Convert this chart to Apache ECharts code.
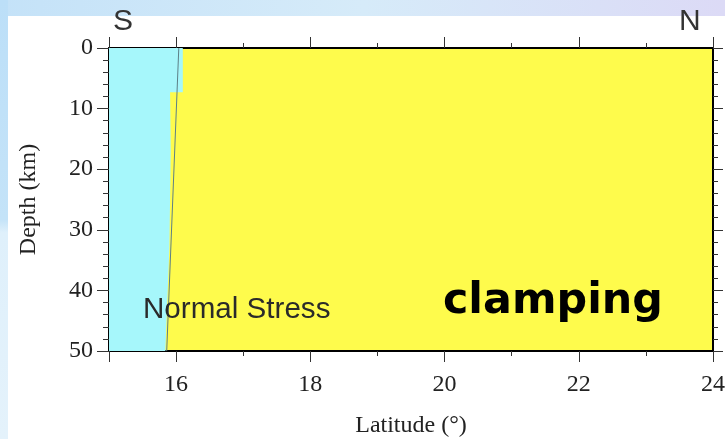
<!DOCTYPE html>
<html>
<head>
<meta charset="utf-8">
<script src="https://cdn.jsdelivr.net/npm/echarts@6/dist/echarts.min.js"></script>
<style>
html,body{margin:0;padding:0;background:#fff;}
#chart{width:725px;height:439px;}
</style>
</head>
<body>
<div id="chart"></div>
<script>
// ---- data ----
const latitudeRange = [15, 24];
const depthRange = [0, 50];
const latitudeLabels = [16, 18, 20, 22, 24];
const latitudeMinorTicks = [15, 16, 17, 18, 19, 20, 21, 22, 23, 24];
const latitudeMajorTicks = [15, 16, 18, 20, 22, 24];
const depthLabels = [0, 10, 20, 30, 40, 50];
// boundary between the cyan (unclamping) and yellow (clamping) zones
const boundaryLat = [16.10, 16.10, 15.91, 15.92, 15.90, 15.84];
const boundaryDepth = [0, 7.3, 7.3, 17, 33, 50];
// thin fault line
const faultLat = [16.04, 15.86];
const faultDepth = [0, 50];

const CYAN = '#a6f7fb';
const YELLOW = '#fefb4c';

const chart = echarts.init(document.getElementById('chart'), null, {renderer: 'canvas'});

const serif = 'Liberation Serif';
const tickFont = {fontFamily: serif, fontSize: 24, color: '#222'};

function xAxisBase(pos, opts) {
  return Object.assign({
    type: 'value', position: pos, min: latitudeRange[0], max: latitudeRange[1], interval: 1,
    splitLine: {show: false}, axisLabel: {show: false}
  }, opts);
}

const boundaryData = boundaryLat.map((v, i) => [v, boundaryDepth[i]]);
const faultData = faultLat.map((v, i) => [v, faultDepth[i]]);

const option = {
  animation: false,
  backgroundColor: '#ffffff',
  grid: {left: 109, right: 12, top: 48, bottom: 88, containLabel: false, outerBoundsMode: 'none',
    show: true, backgroundColor: YELLOW, borderWidth: 0},
  graphic: [
    {type: 'rect', z: -100, shape: {x: 0, y: 0, width: 725, height: 16},
      style: {fill: new echarts.graphic.LinearGradient(0, 0, 1, 0, [
        {offset: 0, color: '#c4e2f8'}, {offset: 0.5, color: '#d6ebf9'}, {offset: 1, color: '#dcdaf6'}])}},
    {type: 'rect', z: -100, shape: {x: 0, y: 0, width: 8, height: 439},
      style: {fill: new echarts.graphic.LinearGradient(0, 0, 0, 1, [
        {offset: 0, color: '#bcdff8'}, {offset: 0.5, color: '#c4e3f8'}, {offset: 0.53, color: '#dff0fb'}, {offset: 1, color: '#e4f2fb'}])}},
    {type: 'text', left: 113, top: 7, style: {text: 'S', font: '30px "Liberation Sans"', fill: '#333'}},
    {type: 'text', left: 679, top: 7, style: {text: 'N', font: '30px "Liberation Sans"', fill: '#333'}},
    {type: 'text', left: 143, top: 295, z: 50, style: {text: 'Normal Stress', font: '29.6px "Liberation Sans"', fill: '#2a2a2a'}},
    {type: 'text', left: 443, top: 280, z: 50, style: {text: 'clamping', font: 'bold 42.8px "DejaVu Sans"', fill: '#000'}}
  ],
  xAxis: [
    xAxisBase('bottom', {
      axisLine: {show: true, onZero: false, lineStyle: {color: '#000', width: 2}},
      axisTick: {show: true, customValues: latitudeMinorTicks, length: 5, lineStyle: {color: '#333', width: 1}},
      axisLabel: {show: true, customValues: latitudeLabels, margin: 22, ...tickFont},
      name: 'Latitude (°)', nameLocation: 'middle', nameGap: 63,
      nameTextStyle: {fontFamily: serif, fontSize: 24, color: '#222'}
    }),
    xAxisBase('bottom', {
      axisLine: {show: false, onZero: false},
      axisTick: {show: true, customValues: latitudeMajorTicks, length: 11, lineStyle: {color: '#333', width: 1}}
    }),
    xAxisBase('top', {
      axisLine: {show: true, onZero: false, lineStyle: {color: '#000', width: 2}},
      axisTick: {show: true, customValues: latitudeMinorTicks, length: 5, lineStyle: {color: '#333', width: 1}}
    }),
    xAxisBase('top', {
      axisLine: {show: false, onZero: false},
      axisTick: {show: true, customValues: latitudeMajorTicks, length: 11, lineStyle: {color: '#333', width: 1}}
    })
  ],
  yAxis: [
    {
      type: 'value', position: 'left', inverse: true, min: depthRange[0], max: depthRange[1], interval: 10,
      splitLine: {show: false},
      axisLine: {show: true, onZero: false, lineStyle: {color: '#000', width: 2}},
      axisTick: {show: true, length: 12, lineStyle: {color: '#333', width: 1}},
      minorTick: {show: true, splitNumber: 5, length: 6, lineStyle: {color: '#333', width: 1}},
      axisLabel: {show: true, margin: 16, customValues: depthLabels, ...tickFont},
      name: 'Depth (km)', nameLocation: 'middle', nameGap: 68,
      nameTextStyle: {fontFamily: serif, fontSize: 24, color: '#222'}
    },
    {
      type: 'value', position: 'right', inverse: true, min: depthRange[0], max: depthRange[1], interval: 10,
      splitLine: {show: false},
      axisLine: {show: true, onZero: false, lineStyle: {color: '#000', width: 2}},
      axisTick: {show: true, length: 10, lineStyle: {color: '#333', width: 1}},
      minorTick: {show: true, splitNumber: 5, length: 5, lineStyle: {color: '#333', width: 1}},
      axisLabel: {show: false}
    }
  ],
  series: [
    {
      type: 'custom',
      xAxisIndex: 0, yAxisIndex: 0,
      data: boundaryData,
      clip: true,
      z: 1,
      renderItem: function (params, api) {
        if (params.dataIndex !== 0) return null;
        const pts = [api.coord([latitudeRange[0], boundaryDepth[0]])];
        for (let i = 0; i < boundaryLat.length; i++) pts.push(api.coord([boundaryLat[i], boundaryDepth[i]]));
        pts.push(api.coord([latitudeRange[0], boundaryDepth[boundaryDepth.length - 1]]));
        return {type: 'polygon', shape: {points: pts}, style: {fill: CYAN, stroke: null}};
      }
    },
    {
      type: 'line',
      xAxisIndex: 0, yAxisIndex: 0,
      data: faultData,
      symbol: 'none',
      z: 2,
      lineStyle: {color: '#5c7f86', width: 1}
    }
  ]
};
chart.setOption(option);
</script>
</body>
</html>
